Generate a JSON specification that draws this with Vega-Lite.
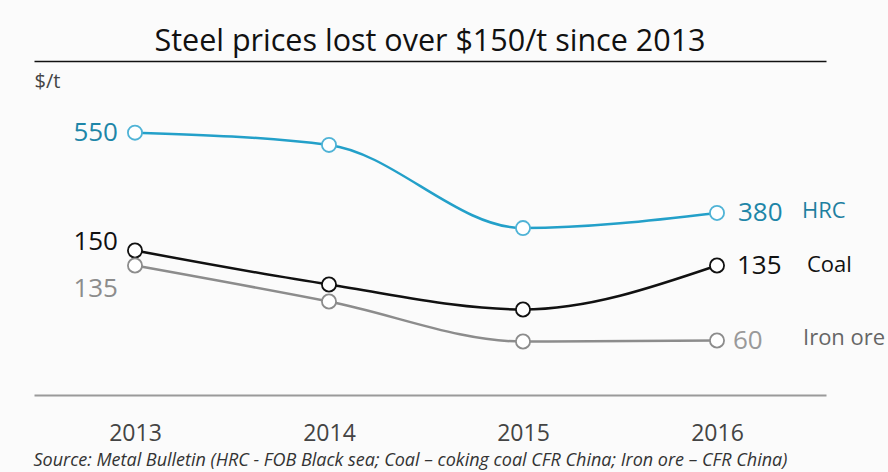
{
  "$schema": "https://vega.github.io/schema/vega-lite/v6.json",
  "width": 792,
  "height": 334,
  "autosize": {"type": "none"},
  "padding": {"left": 34, "right": 62, "top": 61, "bottom": 77},
  "background": "#fbfbfb",
  "config": {"view": {"stroke": null}, "font": "Open Sans"},
  "title": {
    "text": "Steel prices lost over $150/t since 2013",
    "fontSize": 30.5,
    "fontWeight": "normal",
    "color": "#111111",
    "anchor": "middle",
    "offset": 4,
    "dx": 0
  },
  "data": {
    "values": [
      {"series": "HRC", "year": 2013, "value": 550},
      {"series": "HRC", "year": 2014, "value": 524},
      {"series": "HRC", "year": 2015, "value": 348},
      {"series": "HRC", "year": 2016, "value": 380},
      {"series": "Coal", "year": 2013, "value": 150},
      {"series": "Coal", "year": 2014, "value": 116},
      {"series": "Coal", "year": 2015, "value": 91},
      {"series": "Coal", "year": 2016, "value": 135},
      {"series": "Iron ore", "year": 2013, "value": 135},
      {"series": "Iron ore", "year": 2014, "value": 99},
      {"series": "Iron ore", "year": 2015, "value": 59},
      {"series": "Iron ore", "year": 2016, "value": 60}
    ]
  },
  "layer": [
    {
      "transform": [{"filter": "datum.series !== 'HRC'"}],
      "encoding": {
        "x": {
          "field": "year",
          "type": "quantitative",
          "scale": {"domain": [2012.4794, 2016.5619], "nice": false, "zero": false},
          "axis": {
            "orient": "bottom",
            "values": [2013, 2014, 2015, 2016],
            "format": "d",
            "ticks": false,
            "grid": false,
            "domainColor": "#9a9a9a",
            "domainWidth": 2,
            "labelFontSize": 23,
            "labelColor": "#444444",
            "labelPadding": 27,
            "title": "Source: Metal Bulletin (HRC - FOB Black sea; Coal – coking coal CFR China; Iron ore – CFR China)",
            "titleFontStyle": "italic",
            "titleFontWeight": "normal",
            "titleFontSize": 18,
            "titleColor": "#333333",
            "titleAnchor": "start",
            "titleAlign": "left",
            "titleX": -1,
            "titleY": 65,
            "titleBaseline": "middle"
          }
        },
        "y": {
          "field": "value",
          "type": "quantitative",
          "scale": {"domain": [5.5, 339.5], "nice": false, "zero": false},
          "axis": {
            "orient": "left",
            "domain": false,
            "ticks": false,
            "labels": false,
            "grid": false,
            "title": "$/t",
            "titleAngle": 0,
            "titleAlign": "left",
            "titleBaseline": "top",
            "titleX": 0,
            "titleY": 10,
            "titleFontSize": 20,
            "titleFontWeight": "normal",
            "titleColor": "#444444"
          }
        }
      },
      "layer": [
        {
          "mark": {"type": "line", "interpolate": "monotone", "strokeWidth": 2.5},
          "encoding": {
            "color": {
              "field": "series",
              "type": "nominal",
              "scale": {"domain": ["HRC", "Coal", "Iron ore"], "range": ["#23a0c9", "#111111", "#8c8c8c"]},
              "legend": null
            }
          }
        },
        {
          "mark": {"type": "point", "shape": "circle", "filled": false, "fill": "white", "fillOpacity": 1, "size": 200, "strokeWidth": 1.8, "opacity": 1},
          "encoding": {
            "color": {
              "field": "series",
              "type": "nominal",
              "scale": {"domain": ["HRC", "Coal", "Iron ore"], "range": ["#23a0c9", "#111111", "#8c8c8c"]},
              "legend": null
            }
          }
        },
        {
          "transform": [{"filter": "datum.series === 'Coal' && datum.year === 2013"}],
          "mark": {"type": "text", "align": "right", "baseline": "middle", "dx": -17, "dy": -9, "fontSize": 26, "color": "#111111"},
          "encoding": {"text": {"field": "value", "type": "quantitative"}}
        },
        {
          "transform": [{"filter": "datum.series === 'Iron ore' && datum.year === 2013"}],
          "mark": {"type": "text", "align": "right", "baseline": "middle", "dx": -17, "dy": 23, "fontSize": 26, "color": "#8c8c8c"},
          "encoding": {"text": {"field": "value", "type": "quantitative"}}
        },
        {
          "transform": [{"filter": "datum.series === 'Coal' && datum.year === 2016"}],
          "mark": {"type": "text", "align": "left", "baseline": "middle", "dx": 20, "dy": 0, "fontSize": 26, "color": "#111111"},
          "encoding": {"text": {"field": "value", "type": "quantitative"}}
        },
        {
          "transform": [{"filter": "datum.series === 'Iron ore' && datum.year === 2016"}],
          "mark": {"type": "text", "align": "left", "baseline": "middle", "dx": 16, "dy": 0, "fontSize": 26, "color": "#999999"},
          "encoding": {"text": {"field": "value", "type": "quantitative"}}
        },
        {
          "transform": [{"filter": "datum.series === 'Coal' && datum.year === 2016"}],
          "mark": {"type": "text", "align": "left", "baseline": "middle", "dx": 90, "dy": -1, "fontSize": 22, "color": "#111111"},
          "encoding": {"text": {"field": "series", "type": "nominal"}}
        },
        {
          "transform": [{"filter": "datum.series === 'Iron ore' && datum.year === 2016"}],
          "mark": {"type": "text", "align": "left", "baseline": "middle", "dx": 86, "dy": -3, "fontSize": 22, "color": "#666666"},
          "encoding": {"text": {"field": "series", "type": "nominal"}}
        }
      ]
    },
    {
      "transform": [{"filter": "datum.series === 'HRC'"}],
      "encoding": {
        "x": {
          "field": "year",
          "type": "quantitative",
          "axis": {
            "orient": "top",
            "labels": false,
            "ticks": false,
            "grid": false,
            "domainColor": "#111111",
            "domainWidth": 1.5,
            "title": null
          }
        },
        "y": {
          "field": "value",
          "type": "quantitative",
          "scale": {"domain": [-5.3, 701.7], "nice": false, "zero": false},
          "axis": null
        }
      },
      "layer": [
        {
          "mark": {"type": "line", "interpolate": "monotone", "strokeWidth": 2.5},
          "encoding": {
            "color": {
              "field": "series",
              "type": "nominal",
              "scale": {"domain": ["HRC", "Coal", "Iron ore"], "range": ["#23a0c9", "#111111", "#8c8c8c"]},
              "legend": null
            }
          }
        },
        {
          "mark": {"type": "point", "shape": "circle", "filled": false, "fill": "white", "fillOpacity": 1, "size": 200, "strokeWidth": 1.8, "color": "#4fb3d6", "opacity": 1}
        },
        {
          "transform": [{"filter": "datum.year === 2013"}],
          "mark": {"type": "text", "align": "right", "baseline": "middle", "dx": -17, "dy": 0, "fontSize": 26, "color": "#1e86a8"},
          "encoding": {"text": {"field": "value", "type": "quantitative"}}
        },
        {
          "transform": [{"filter": "datum.year === 2016"}],
          "mark": {"type": "text", "align": "left", "baseline": "middle", "dx": 21, "dy": 0, "fontSize": 26, "color": "#1e86a8"},
          "encoding": {"text": {"field": "value", "type": "quantitative"}}
        },
        {
          "transform": [{"filter": "datum.year === 2016"}],
          "mark": {"type": "text", "align": "left", "baseline": "middle", "dx": 85, "dy": -2, "fontSize": 22, "color": "#1e7fa0"},
          "encoding": {"text": {"field": "series", "type": "nominal"}}
        }
      ]
    }
  ],
  "resolve": {
    "scale": {"y": "independent"},
    "axis": {"x": "independent", "y": "independent"}
  }
}
